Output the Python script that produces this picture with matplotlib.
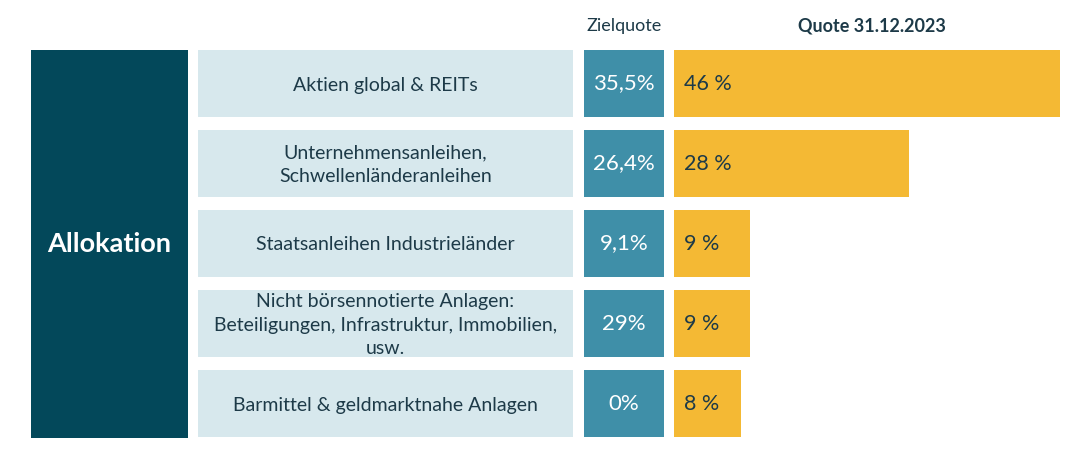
import matplotlib.pyplot as plt
from matplotlib.patches import Rectangle

categories = [
    "Aktien global & REITs",
    "Unternehmensanleihen,\nSchwellenländeranleihen",
    "Staatsanleihen Industrieländer",
    "Nicht börsennotierte Anlagen:\nBeteiligungen, Infrastruktur, Immobilien,\nusw.",
    "Barmittel & geldmarktnahe Anlagen",
]
zielquote = ["35,5%", "26,4%", "9,1%", "29%", "0%"]
quote_2023 = [46, 28, 9, 9, 8]

dark = "#03485a"
light = "#d7e8ed"
teal = "#3f8fa8"
orange = "#f4b934"
txt = "#1d3a48"

plt.rcParams['font.family'] = ['Lato', 'DejaVu Sans']

W, H = 1088, 454
fig = plt.figure(figsize=(W / 100, H / 100), dpi=100)
ax = fig.add_axes([0, 0, 1, 1])
ax.set_xlim(0, W)
ax.set_ylim(H, 0)
ax.axis('off')

row_y = [83.5 + 80 * i for i in range(len(categories))]
row_h = 67

# left block
ax.add_patch(Rectangle((31, 50), 157, 388, color=dark, lw=0))
ax.text(109.5, 244, "Allokation", color="white", fontsize=19.5, fontweight='bold',
        ha='center', va='center')

# category boxes
ax.barh(row_y, 375, left=198, height=row_h, color=light)
for y, c in zip(row_y, categories):
    ax.text(385.5, y + 1.5, c, color=txt, fontsize=14,
            ha='center', va='center', linespacing=1.45)

# Zielquote boxes
ax.barh(row_y, 80, left=584, height=row_h, color=teal)
for y, z in zip(row_y, zielquote):
    ax.text(624, y, z, color="white", fontsize=16, ha='center', va='center')

ax.text(624, 26, "Zielquote", color=txt, fontsize=13, ha='center', va='center')
ax.text(872, 26, "Quote 31.12.2023", color=txt, fontsize=13, fontweight='bold',
        ha='center', va='center')

# current quota bars
x0 = 674
px_per_pct = 8.4
bx = fig.add_axes([x0 / W, 0, (W - x0) / W, 1])
bx.set_xlim(0, (W - x0) / px_per_pct)
bx.set_ylim(H, 0)
bx.axis('off')
bx.barh(row_y, quote_2023, left=0, height=row_h, color=orange)
for y, q in zip(row_y, quote_2023):
    bx.text(10 / px_per_pct, y, f"{q} %", color=txt, fontsize=15.5, ha='left', va='center')

fig.savefig("out.png", dpi=100)
